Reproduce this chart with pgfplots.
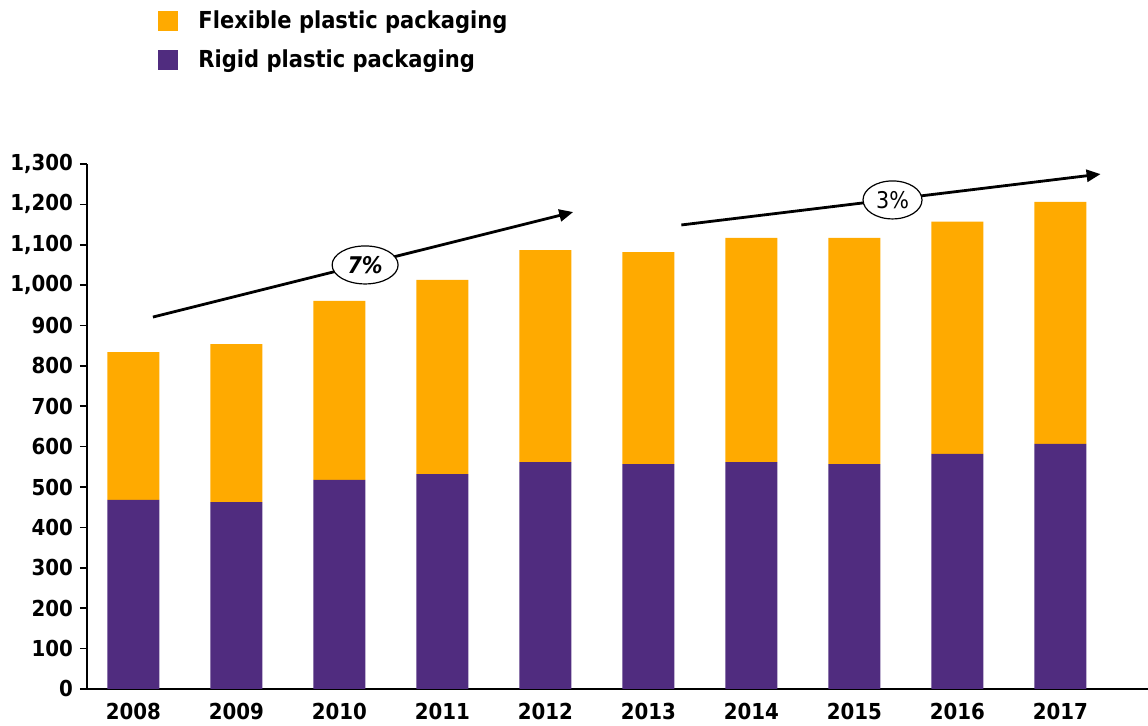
\documentclass[border=0pt]{standalone}
\usepackage{pgfplots}
\pgfplotsset{compat=1.18}
\usepackage{fontspec}
\setmainfont{DejaVu Sans Condensed}
\usetikzlibrary{arrows.meta,shapes.geometric}
\definecolor{flexorange}{HTML}{FFAA00}
\definecolor{rigidpurple}{HTML}{502C7F}
\begin{document}
\begin{tikzpicture}
\begin{axis}[
    at={(0,0)}, anchor=south west,
    scale only axis,
    width=530.5pt, height=262.5pt,
    ybar stacked,
    bar width=26pt,
    xmin=-0.45, xmax=9.85,
    ymin=0, ymax=1300,
    xtick={0,...,9},
    xticklabels={2008,2009,2010,2011,2012,2013,2014,2015,2016,2017},
    ytick={0,100,...,1300},
    axis lines*=left,
    axis line style={line width=1pt, -},
    x tick style={draw=none},
    y tick style={line width=0.8pt, black},
    tick align=outside,
    major tick length=3.5pt,
    ticklabel style={font=\bfseries\fontsize{11}{12}\selectfont},
    /pgf/number format/assume math mode=true,
    /pgf/number format/1000 sep={,},
    reverse legend,
    legend style={at={(0.067,1.30)}, anchor=north west, draw=none, fill=none,
        inner sep=0pt, row sep=5pt,
        font=\bfseries\fontsize{11.7}{13}\selectfont,
        cells={anchor=west}},
    legend image code/.code={\fill[#1,draw=none] (0pt,-5pt) rectangle (10pt,5pt);},
]
\addplot[fill=rigidpurple, draw=none] coordinates {
    (0,468) (1,463) (2,518) (3,532) (4,562) (5,557) (6,562) (7,557) (8,582) (9,607)};
\addlegendentry{\hspace{8pt}Rigid plastic packaging}
\addplot[fill=flexorange, draw=none] coordinates {
    (0,366) (1,391) (2,443) (3,481) (4,525) (5,525) (6,555) (7,560) (8,575) (9,599)};
\addlegendentry{\hspace{8pt}Flexible plastic packaging}

\draw[line width=1.4pt, -{Triangle[length=7pt,width=6pt]}] (axis cs:0.19,921) -- (axis cs:4.27,1181);
\draw[line width=1.4pt, -{Triangle[length=7pt,width=6pt]}] (axis cs:5.32,1149) -- (axis cs:9.39,1275);
\coordinate (e1) at (axis cs:2.25,1050);
\coordinate (e2) at (axis cs:7.37,1211);
\end{axis}
\node[ellipse, draw, line width=0.6pt, fill=white, inner sep=1pt, minimum width=33pt, minimum height=19pt,
    font=\bfseries\itshape\fontsize{11.5}{13}\selectfont] at (e1) {7\%};
\node[ellipse, draw, line width=0.6pt, fill=white, inner sep=1pt, minimum width=29.5pt, minimum height=19pt,
    font=\fontsize{11.5}{13}\selectfont] at (e2) {3\%};
\pgfresetboundingbox
\useasboundingbox (-43.5pt,-18.5pt) rectangle (530.5pt,344.5pt);
\end{tikzpicture}
\end{document}
